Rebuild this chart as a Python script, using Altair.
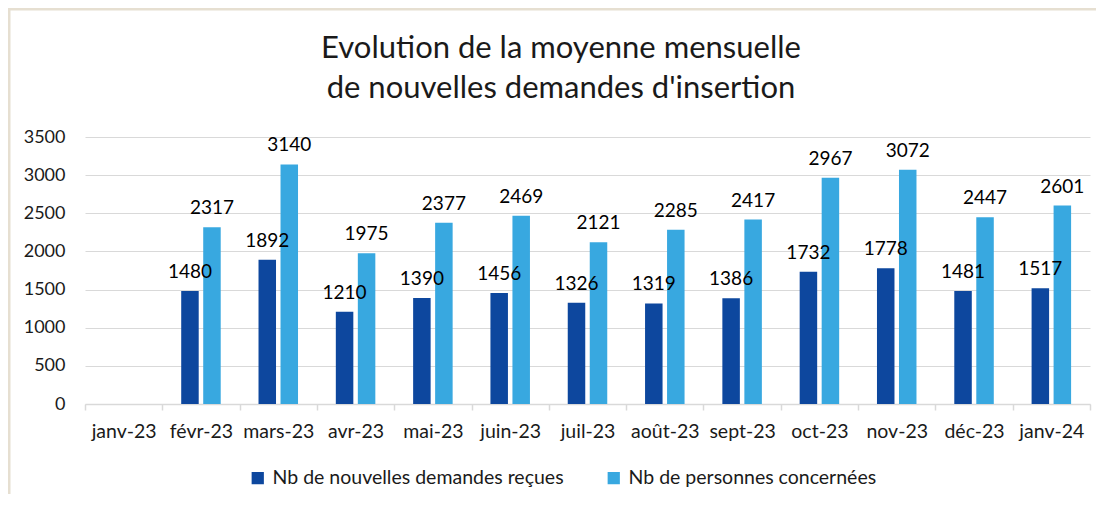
import altair as alt
import pandas as pd

months = ["janv-23", "févr-23", "mars-23", "avr-23", "mai-23", "juin-23", "juil-23",
          "août-23", "sept-23", "oct-23", "nov-23", "déc-23", "janv-24"]
demandes = [None, 1480, 1892, 1210, 1390, 1456, 1326, 1319, 1386, 1732, 1778, 1481, 1517]
personnes = [None, 2317, 3140, 1975, 2377, 2469, 2121, 2285, 2417, 2967, 3072, 2447, 2601]
series = ["Nb de nouvelles demandes reçues", "Nb de personnes concernées"]
colors = ["#0D479E", "#38A8E0"]
y_ticks = [0, 500, 1000, 1500, 2000, 2500, 3000, 3500]
title_lines = ["Evolution de la moyenne mensuelle", "de nouvelles demandes d'insertion"]

rows = []
for i, m in enumerate(months):
    rows.append({"mois": m, "serie": series[0], "valeur": demandes[i]})
    rows.append({"mois": m, "serie": series[1], "valeur": personnes[i]})
df = pd.DataFrame(rows)

FONT = "Lato"

x_enc = alt.X("mois:N", sort=months, title=None,
              scale=alt.Scale(domain=months, paddingInner=0, paddingOuter=0),
              axis=alt.Axis(labelAngle=0, labelFontSize=19.5, labelFont=FONT, labelColor="#1a1a1a",
                            labelPadding=12, domainColor="#D9D9D9", domainWidth=1.5,
                            tickColor="#D9D9D9", tickWidth=1.5, tickSize=6, tickBand="extent",
                            grid=False))
xoff = alt.XOffset("serie:N", sort=series,
                   scale=alt.Scale(domain=series, paddingInner=0.2045, paddingOuter=0.859))
y_enc = alt.Y("valeur:Q", title=None,
              scale=alt.Scale(domain=[0, 3500], nice=False),
              axis=alt.Axis(values=y_ticks, format="d", labelFontSize=18, labelFont=FONT,
                            labelColor="#1a1a1a", labelPadding=20, domain=False, ticks=False,
                            gridColor="#D9D9D9", gridWidth=1))

base = alt.Chart(df).transform_filter("isValid(datum.valeur)")

bars = base.mark_bar().encode(
    x=x_enc, xOffset=xoff, y=y_enc,
    color=alt.Color("serie:N", sort=series, title=None,
                    scale=alt.Scale(domain=series, range=colors),
                    legend=alt.Legend(orient="none", legendX=163, legendY=331, direction="horizontal",
                                      symbolType="square", symbolSize=150, symbolStrokeWidth=0,
                                      labelFontSize=19.5, labelFont=FONT, labelColor="#1a1a1a",
                                      labelOffset=5, columnPadding=40, labelLimit=400)),
)

labels = base.mark_text(baseline="bottom", dy=-9, fontSize=19, font=FONT, color="#000000").encode(
    x=x_enc, xOffset=xoff, y=y_enc,
    text=alt.Text("valeur:Q", format="d"),
)

one = pd.DataFrame({"k": [0]})
frame_top = alt.Chart(one).mark_rule(color="#E6DFD1", strokeWidth=3).encode(
    x=alt.value(-77), x2=alt.value(1011), y=alt.value(-128))
frame_left = alt.Chart(one).mark_rule(color="#E6DFD1", strokeWidth=3).encode(
    x=alt.value(-76), y=alt.value(-129), y2=alt.value(363))
title = alt.Chart(one).mark_text(fontSize=31, font=FONT, color="#1a1a1a", align="center",
                                 baseline="alphabetic", lineHeight=40).encode(
    x=alt.value(476), y=alt.value(-79), text=alt.value(title_lines))

chart = alt.layer(frame_top, frame_left, title, bars, labels).properties(
    width=1005, height=267,
    autosize=alt.AutoSizeParams(type="none"),
    padding={"left": 77, "top": 129, "right": 6, "bottom": 90},
).configure_view(stroke=None)

chart.save("out.html", embed_options={"renderer": "svg", "actions": False})
